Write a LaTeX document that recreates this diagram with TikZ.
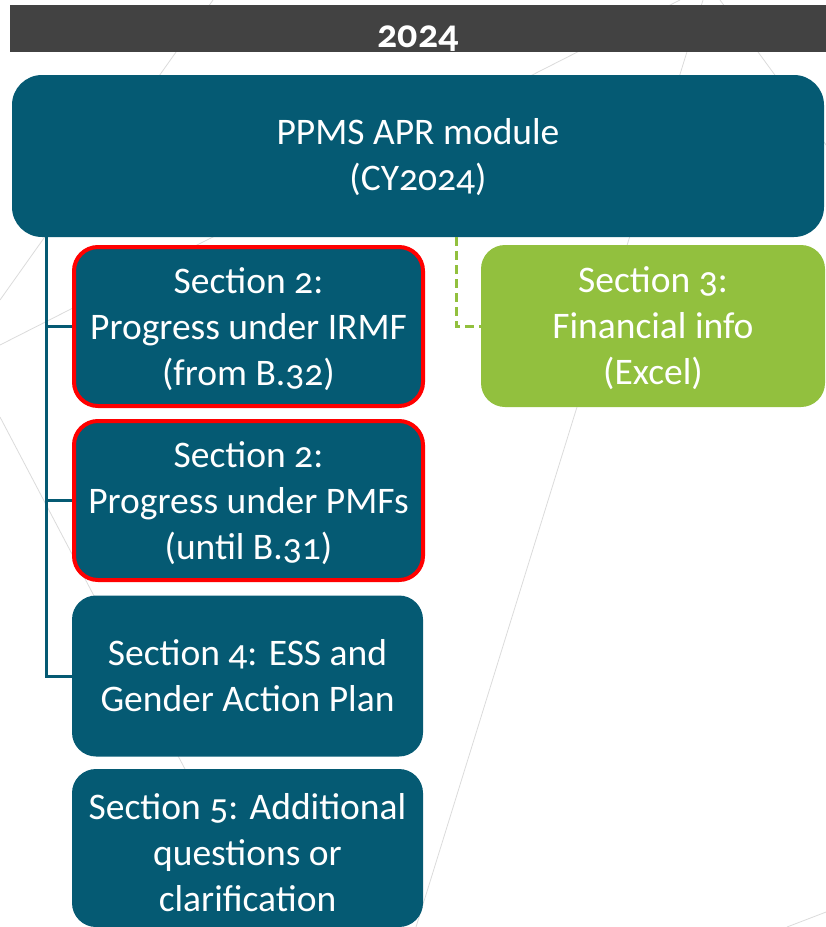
\documentclass[tikz,border=0pt]{standalone}
\usepackage{fontspec}
\setmainfont{Carlito}[Numbers=OldStyle]
\usepackage{tikz}
\usetikzlibrary{positioning}

\definecolor{aprteal}{RGB}{5,90,115}
\definecolor{aprgreen}{RGB}{146,192,62}
\definecolor{bargray}{RGB}{66,66,66}

\begin{document}
\begin{tikzpicture}[x=1pt, y=-1pt,
    every node/.style={text=white, align=center, inner sep=0pt, font=\fontsize{37.5}{46}\selectfont},
    sect/.style={fill=aprteal, rounded corners=24pt, minimum width=351pt, minimum height=161pt},
    flagged/.style={sect, draw=red, line width=4pt, minimum width=349pt, minimum height=159pt, text depth=0pt},
    tree/.style={draw=aprteal, line width=3pt},
    excel/.style={draw=aprgreen, line width=3pt, dash pattern=on 9pt off 5pt},
    faint/.style={draw=black!14, line width=0.8pt}]
    \useasboundingbox (0,0) rectangle (826,927);

    % faint background lines
    \begin{scope}
        \clip (0,0) rectangle (826,927);
        \draw[faint] (213,0) -- (0,300);
        \draw[faint] (680,0) -- (0,345);
        \draw[faint] (0,417) -- (268,927);
        \draw[faint] (703,0) -- (416,927);
        \draw[faint] (720,0) -- (870,205);
        \draw[faint] (860,899) -- (787,927);
    \end{scope}

    \node[fill=bargray, minimum width=816pt, minimum height=47pt, text height=37pt, text depth=0pt,
        font=\fontsize{40}{44}\selectfont\bfseries] (year) at (418,28.5) {2024};
    \node[sect, rounded corners=30pt, minimum width=812pt, minimum height=162pt, text depth=4pt] (apr) at (418,156) {PPMS APR module\\(CY2024)};

    \node[flagged] (irmf) at (248.5,326.5) {Section 2:\\Progress under IRMF\\(from B.32)};
    \node[flagged] (pmf) at (248.5,500.5) {Section 2:\\Progress under PMFs\\(until B.31)};
    \node[sect] (ess) at (247.5,676) {Section 4: ESS and\\Gender Action Plan};
    \node[sect, minimum height=158pt, text height=127pt] (extra) at (247.5,848) {Section 5: Additional\\questions or\\clarification};
    \node[sect, fill=aprgreen, minimum width=344pt, minimum height=162pt, text depth=0pt] (fin) at (653,326) {Section 3:\\Financial info\\(Excel)};

    \coordinate (trunk) at (46,237);
    \coordinate (tap) at (456,237);
    \draw[tree] (trunk) |- (ess.west);
    \draw[tree] (trunk |- irmf.west) -- (irmf.west);
    \draw[tree] (trunk |- pmf.west) -- (pmf.west);
    \draw[excel] (tap) |- (fin.west);
\end{tikzpicture}
\end{document}
